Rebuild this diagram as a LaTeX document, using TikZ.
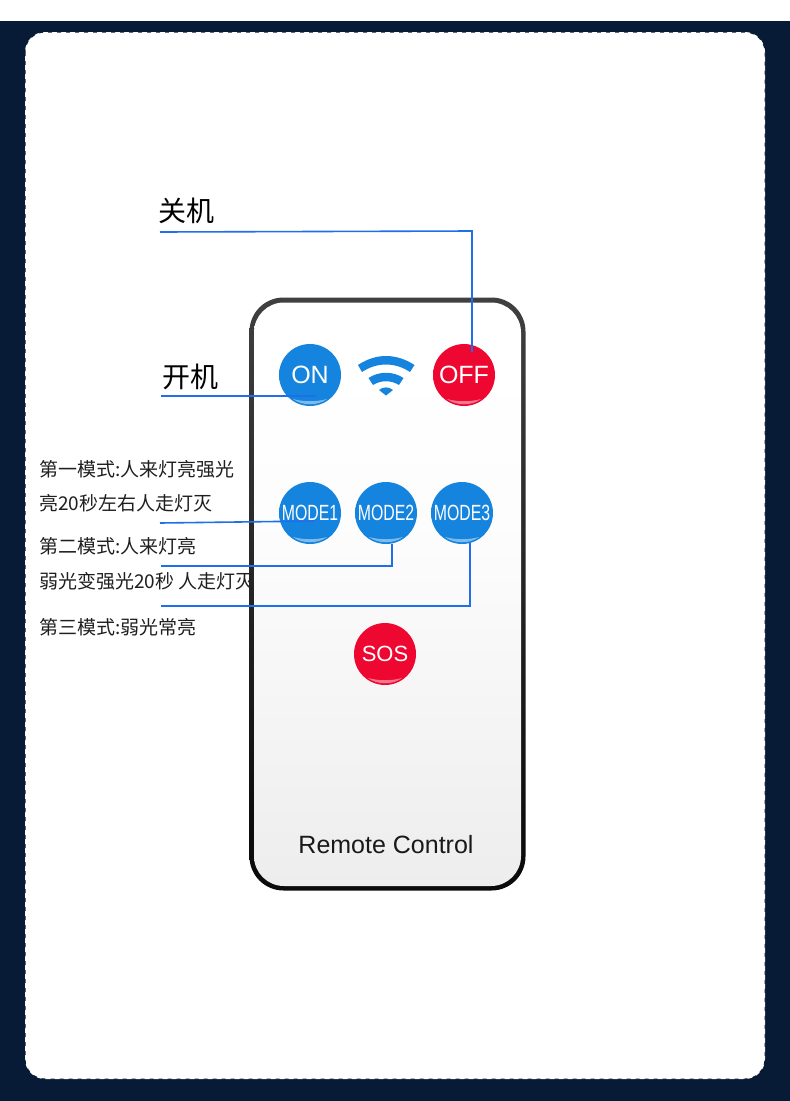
\documentclass[tikz,border=0pt]{standalone}
\usepackage{fontspec}
\setmainfont{Liberation Sans}
\newfontfamily\cjk{Noto Sans CJK SC}
\usetikzlibrary{calc}
\definecolor{navy}{HTML}{071A36}
\definecolor{leader}{HTML}{1F6FEA}
\definecolor{wifiblue}{HTML}{1584DE}
\pgfdeclareverticalshading{bodyfill}{100bp}{color(0bp)=(black!8);color(25bp)=(black!7);color(55bp)=(black!1);color(70bp)=(white);color(100bp)=(white)}
\pgfdeclareverticalshading{bodyrim}{100bp}{color(0bp)=(black);color(30bp)=(black!95);color(75bp)=(black!75);color(100bp)=(black!68)}
\pgfdeclareradialshading{bluebtn}{\pgfpoint{0bp}{0bp}}{color(0bp)=(wifiblue);color(36bp)=(wifiblue);color(45bp)=(wifiblue!92!white);color(50bp)=(wifiblue!65!white)}
\definecolor{redbase}{HTML}{EE0730}
\pgfdeclareradialshading{redbtn}{\pgfpoint{0bp}{0bp}}{color(0bp)=(redbase);color(36bp)=(redbase);color(45bp)=(redbase!94!white);color(50bp)=(redbase!72!white)}
\tikzset{
  x=1pt,y=-1pt,
  btnbase/.style={circle,minimum size=62pt,inner sep=0pt,text=white,
    path picture={
      \fill[white,opacity=.45] ($(path picture bounding box.center)+(-17,24)$) .. controls ($(path picture bounding box.center)+(-6,27)$) and ($(path picture bounding box.center)+(6,27)$) .. ($(path picture bounding box.center)+(17,24)$) .. controls ($(path picture bounding box.center)+(8,31)$) and ($(path picture bounding box.center)+(-8,31)$) .. cycle;
    }},
  bluebutton/.style={btnbase,shading=bluebtn},
  redbutton/.style={btnbase,shading=redbtn},
  widelabel/.style={font=\fontsize{25}{25}\selectfont},
  modelabel/.style={font=\fontsize{22}{22}\selectfont},
  bigcjk/.style={anchor=west,inner sep=0pt,font=\cjk\fontsize{28}{28}\selectfont},
  smallcjk/.style={anchor=west,inner sep=0pt,font=\cjk\fontsize{19}{19}\selectfont,text=black!88},
  leaderline/.style={draw=leader,line width=1.6pt},
  wifiarc/.style={draw=wifiblue,line cap=butt}
}
\begin{document}
\begin{tikzpicture}
\useasboundingbox (0,0) rectangle (790,1101);
\fill[white] (0,0) rectangle (790,1101);
\fill[navy] (0,21) rectangle (790,1101);
\fill[white] (25,32) [rounded corners=20pt] rectangle (765,1079);
\draw[navy,line width=1pt,dash pattern=on 4pt off 5pt,rounded corners=20pt] (25,32) rectangle (765,1079);
% remote body
\shade[shading=bodyrim,rounded corners=34pt] (249.5,297.5) rectangle (525.5,890.5);
\shade[shading=bodyfill,rounded corners=30pt] (254,302.5) rectangle (521,886);
% buttons
\node[bluebutton] (on) at (310,375) {\fontsize{25}{25}\selectfont ON};
\node[redbutton] (off) at (464,375) {\fontsize{25}{25}\selectfont OFF};
\node[bluebutton] (m1) at (310,513) {\fontsize{22}{22}\selectfont\scalebox{.72}[1]{MODE1}};
\node[bluebutton] (m2) at (386,513) {\fontsize{22}{22}\selectfont\scalebox{.72}[1]{MODE2}};
\node[bluebutton] (m3) at (462,513) {\fontsize{22}{22}\selectfont\scalebox{.72}[1]{MODE3}};
\node[redbutton] (sos) at (385,654) {\fontsize{22}{22}\selectfont SOS};
% wifi
\fill[wifiblue] (358,365) .. controls (376,353) and (396,353) .. (414.5,365) -- (410,372) .. controls (395,362) and (377,362) .. (362,372) -- cycle;
\fill[wifiblue] (368.5,378) .. controls (379,371) and (393,371) .. (403.5,378) -- (399,385) .. controls (391,380) and (381,380) .. (373,385) -- cycle;
\fill[wifiblue] (379,390) .. controls (383,386.5) and (389,386.5) .. (393,390) -- (386,395.5) -- cycle;
% labels
\node[inner sep=0pt,text=black!90,font=\fontsize{25}{25}\selectfont] (rc) at (386,845) {Remote Control};
\node[bigcjk] (tOff) at (158,211) {关机};
\node[bigcjk] (tOn) at (162,377) {开机};
\node[smallcjk] (t1) at (39,469) {第一模式:人来灯亮强光};
\node[smallcjk] (t2) at (39,503) {亮20秒左右人走灯灭};
\node[smallcjk] (t3) at (39,546) {第二模式:人来灯亮};
\node[smallcjk] (t4) at (39,581) {弱光变强光20秒 人走灯灭};
\node[smallcjk] (t5) at (39,627) {第三模式:弱光常亮};
% leaders
\coordinate (sOff) at (160,232);
\coordinate (eOff) at (472,352);
\coordinate (sOn) at (161,396);
\coordinate (eOn) at (316,396);
\coordinate (s1) at (160,523);
\coordinate (e1) at (315,521);
\coordinate (s2) at (161,566);
\coordinate (s3) at (161,606);
\draw[leaderline] (sOff) -- (472,231) -- (eOff);
\draw[leaderline] (sOn) -- (eOn);
\draw[leaderline] (s1) -- (e1);
\draw[leaderline] (s2) -| (m2.-79);
\draw[leaderline] (s3) -| (m3.-75);
\end{tikzpicture}
\end{document}
